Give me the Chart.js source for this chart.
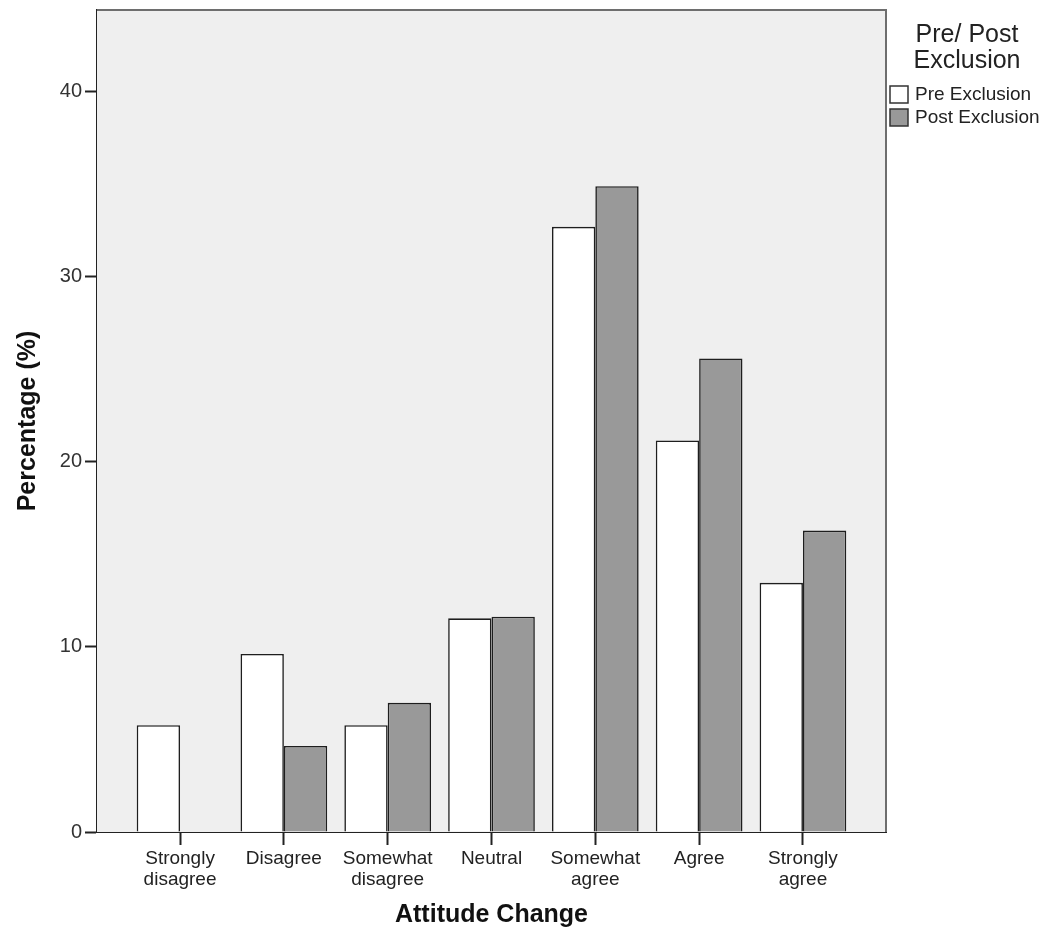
<!DOCTYPE html>
<html>
<head>
<meta charset="utf-8">
<title>Attitude Change</title>
<script src="https://cdn.jsdelivr.net/npm/chart.js@4/dist/chart.umd.min.js"></script>
<style>
  body { margin: 0; background: #fff; }
  canvas { display: block; }
</style>
</head>
<body>
<canvas id="chart" width="1051" height="938"></canvas>
<script>
// categories on the x axis (each as its lines)
var categories = [
  ["Strongly", "disagree"],
  ["Disagree"],
  ["Somewhat", "disagree"],
  ["Neutral"],
  ["Somewhat", "agree"],
  ["Agree"],
  ["Strongly", "agree"]
];

// percentages
var preExclusion = [5.77, 9.62, 5.77, 11.54, 32.69, 21.15, 13.46];
var postExclusion = [0, 4.65, 6.98, 11.63, 34.88, 25.58, 16.28];

var yTicks = [0, 10, 20, 30, 40];
var seriesNames = ["Pre Exclusion", "Post Exclusion"];
var legendTitle = ["Pre/ Post", "Exclusion"];

var FONT = "'Liberation Sans', Arial, sans-serif";

/* ================= PLOT FRAME + LEGEND ================= */

var framePlugin = {
  id: "frame",
  beforeDatasetsDraw: function (chart) {
    var a = chart.chartArea, ctx = chart.ctx;
    ctx.save();
    ctx.fillStyle = "#efefef";
    ctx.fillRect(a.left, a.top, a.right - a.left, a.bottom - a.top);
    ctx.restore();
  },
  afterDraw: function (chart) {
    var a = chart.chartArea, ctx = chart.ctx;
    ctx.save();
    // top and right edges of the frame
    ctx.strokeStyle = "#6e6e6e";
    ctx.lineWidth = 2;
    ctx.beginPath();
    ctx.moveTo(a.left, a.top);
    ctx.lineTo(a.right, a.top);
    ctx.lineTo(a.right, a.bottom);
    ctx.stroke();

    // legend
    ctx.fillStyle = "#222";
    ctx.textAlign = "center";
    ctx.textBaseline = "middle";
    ctx.font = "25px " + FONT;
    legendTitle.forEach(function (line, i) {
      ctx.fillText(line, 967, 35 + i * 26);
    });

    ctx.font = "19px " + FONT;
    ctx.textAlign = "left";
    chart.data.datasets.forEach(function (ds, i) {
      var y = 86 + i * 23;
      ctx.fillStyle = ds.backgroundColor;
      ctx.fillRect(890, y, 18, 17);
      ctx.strokeStyle = "#333";
      ctx.lineWidth = 1.5;
      ctx.strokeRect(890, y, 18, 17);
      ctx.fillStyle = "#222";
      ctx.fillText(ds.label, 915, y + 9);
    });
    ctx.restore();
  }
};

/* ================= CHART ================= */

new Chart(document.getElementById("chart"), {
  type: "bar",
  data: {
    datasets: [
      {
        label: seriesNames[0],
        data: preExclusion.map(function (v, i) { return { x: i, y: v }; }),
        backgroundColor: "#ffffff",
        borderColor: "#1e1e1e",
        borderWidth: 1.6
      },
      {
        label: seriesNames[1],
        data: postExclusion.map(function (v, i) { return { x: i, y: v }; }),
        backgroundColor: "#999999",
        borderColor: "#1e1e1e",
        borderWidth: 1.6
      }
    ]
  },
  options: {
    responsive: false,
    animation: false,
    categoryPercentage: 0.835,
    barPercentage: 1,
    layout: { padding: { top: 10, right: 165, left: 0, bottom: 0 } },
    plugins: {
      legend: { display: false },
      tooltip: { enabled: false }
    },
    scales: {
      x: {
        type: "linear",
        min: -0.8,
        max: 6.8,
        offset: false,
        afterBuildTicks: function (scale) {
          scale.ticks = categories.map(function (c, i) { return { value: i }; });
        },
        afterFit: function (scale) {
          scale.height = 106;
          scale.paddingLeft = 0;
          scale.paddingRight = 0;
        },
        grid: {
          offset: false,
          drawOnChartArea: false,
          drawTicks: true,
          tickLength: 13,
          tickWidth: 2,
          tickColor: "#222"
        },
        border: { color: "#222", width: 2 },
        ticks: {
          maxRotation: 0,
          autoSkip: false,
          padding: 3,
          color: "#222",
          font: { family: FONT, size: 19, lineHeight: 1.1 },
          callback: function (value) { return categories[value]; }
        },
        title: {
          display: true,
          text: "Attitude Change",
          color: "#111",
          font: { family: FONT, size: 25, weight: "bold" },
          padding: { top: 0, bottom: 8 }
        }
      },
      y: {
        min: 0,
        max: 44.4,
        afterBuildTicks: function (scale) {
          scale.ticks = yTicks.map(function (v) { return { value: v }; });
        },
        afterFit: function (scale) {
          scale.width = 97;
          scale.paddingTop = 0;
          scale.paddingBottom = 0;
        },
        grid: {
          drawOnChartArea: false,
          drawTicks: true,
          tickLength: 12,
          tickWidth: 2,
          tickColor: "#222"
        },
        border: { color: "#222", width: 2 },
        ticks: {
          padding: 3,
          color: "#333",
          font: { family: FONT, size: 20 }
        },
        title: {
          display: true,
          text: "Percentage (%)",
          color: "#111",
          font: { family: FONT, size: 25, weight: "bold" },
          padding: { top: 13, bottom: 0 }
        }
      }
    }
  },
  plugins: [framePlugin]
});
</script>
</body>
</html>
